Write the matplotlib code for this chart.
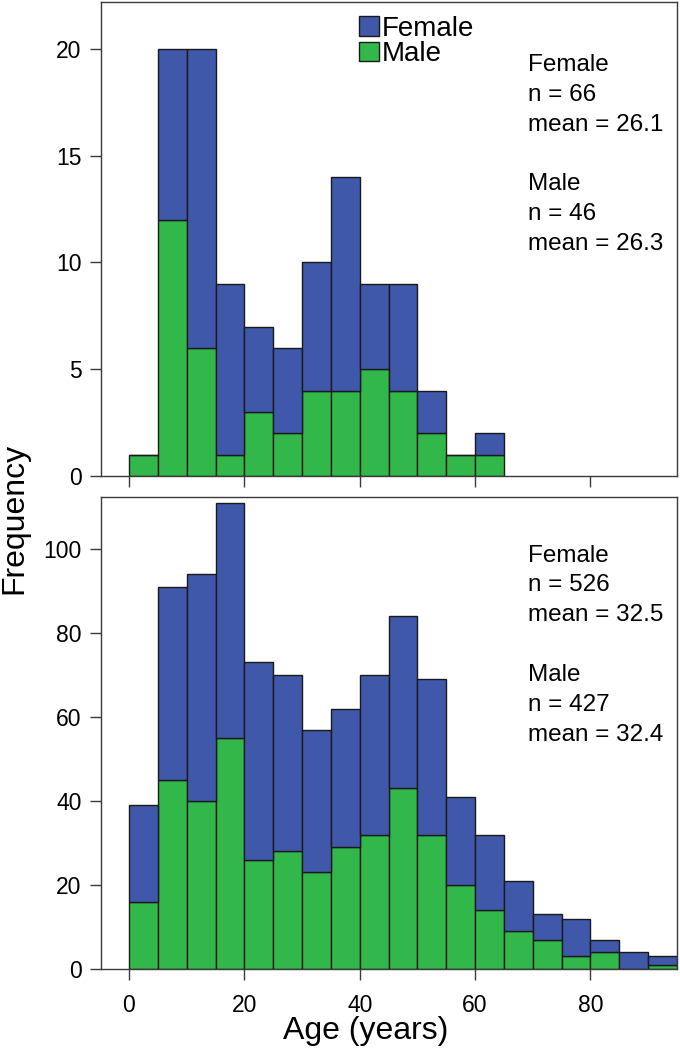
import matplotlib
matplotlib.use("Agg")
import matplotlib.pyplot as plt
from matplotlib.patches import Patch
import numpy as np

plt.rcParams['font.family'] = ['Liberation Sans', 'DejaVu Sans']

bin_edges = [0, 5, 10, 15, 20, 25, 30, 35, 40, 45, 50, 55, 60, 65, 70, 75, 80, 85, 90, 95]

# Top panel (n=66 female, n=46 male), bins 0-65
top_male = [1, 12, 6, 1, 3, 2, 4, 4, 5, 4, 2, 1, 1]
top_female = [0, 8, 14, 8, 4, 4, 6, 10, 4, 5, 2, 0, 1]

# Bottom panel (n=526 female, n=427 male), bins 0-95
bot_male = [16, 45, 40, 55, 26, 28, 23, 29, 32, 43, 32, 20, 14, 9, 7, 3, 4, 0, 1]
bot_female = [23, 46, 54, 56, 47, 42, 34, 33, 38, 41, 37, 21, 18, 12, 6, 9, 3, 4, 2]

top_text = "Female\nn = 66\nmean = 26.1\n\nMale\nn = 46\nmean = 26.3"
bot_text = "Female\nn = 526\nmean = 32.5\n\nMale\nn = 427\nmean = 32.4"

blue = "#3f58a9"
green = "#32b84a"
edge = "#1a1a1a"
spine_c = "#3a3a3a"

fig = plt.figure(figsize=(6.8, 10.57), dpi=100)
W, H = 680, 1057
L, R = 101, 677
ax1 = fig.add_axes([L / W, 1 - 476 / H, (R - L) / W, (476 - 2) / H])
ax2 = fig.add_axes([L / W, 1 - 969 / H, (R - L) / W, (969 - 497) / H])


def draw(ax, male, female, ylim, yticks, text, showx, ty):
    n = len(male)
    lefts = np.array(bin_edges[:n])
    ax.bar(lefts, male, width=5, align='edge', color=green, edgecolor=edge, linewidth=1.0, label='Male')
    ax.bar(lefts, female, width=5, bottom=male, align='edge', color=blue, edgecolor=edge, linewidth=1.0,
           label='Female')
    ax.set_xlim(-4.85, 95.0)
    ax.set_ylim(*ylim)
    ax.set_yticks(yticks)
    ax.set_xticks([0, 20, 40, 60, 80])
    ax.tick_params(axis='both', direction='out', length=8, width=1.0, color=spine_c,
                   labelsize=16.5, pad=6)
    ax.tick_params(axis='x', pad=10)
    if not showx:
        ax.tick_params(axis='x', labelbottom=False)
    for s in ax.spines.values():
        s.set_color(spine_c)
        s.set_linewidth(1.0)
    ax.text(0.741, ty, text, transform=ax.transAxes, ha='left', va='top', fontsize=17.5,
            linespacing=1.46)


draw(ax1, top_male, top_female, (0, 22.2), [0, 5, 10, 15, 20], top_text, False, 0.890)
draw(ax2, bot_male, bot_female, (0, 112.4), [0, 20, 40, 60, 80, 100], bot_text, True, 0.899)

handles = [Patch(facecolor=blue, edgecolor=edge, linewidth=1.0),
           Patch(facecolor=green, edgecolor=edge, linewidth=1.0)]
ax1.legend(handles, ['Female', 'Male'], loc='upper left', bbox_to_anchor=((359 - L) / (R - L), (476 - 16) / 474),
           frameon=False, fontsize=20, handlelength=0.72, handleheight=0.72, handletextpad=0.1,
           labelspacing=-0.03, borderpad=0, borderaxespad=0)

fig.text(14 / W, 1 - 518 / H, "Frequency", rotation=90, ha='center', va='center', fontsize=23)
fig.text(366 / W, 1 - 1031 / H, "Age (years)", ha='center', va='center', fontsize=23)

fig.savefig("out.png", dpi=100)
